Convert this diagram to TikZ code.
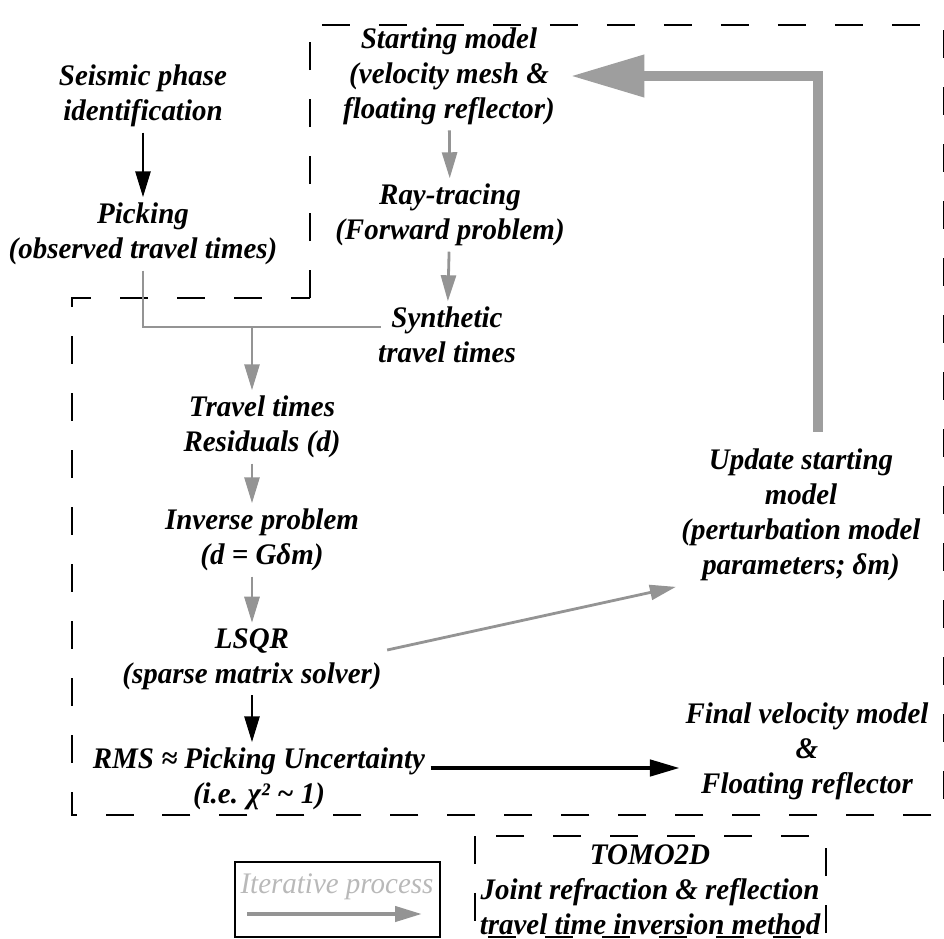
\documentclass[tikz,border=0pt]{standalone}
\usepackage{fontspec}
\setmainfont{Liberation Serif}[FakeStretch=0.97]
\usetikzlibrary{positioning,arrows.meta}
\definecolor{arrgray}{RGB}{148,148,148}
\definecolor{retgray}{RGB}{158,158,158}
\definecolor{legtext}{RGB}{185,185,185}

\begin{document}
\begin{tikzpicture}[x=0.02cm, y=-0.02cm,
    every node/.style={font=\bfseries\itshape\fontsize{17}{20}\selectfont, align=center, inner sep=3pt},
    garrow/.style={draw=arrgray, line width=1.6pt, -{Triangle[length=0.52cm,width=0.3cm]}},
    barrow/.style={draw=black, line width=1.6pt, -{Triangle[length=0.52cm,width=0.3cm]}},
    frame/.style={dash pattern=on 0.56cm off 0.58cm, line width=1.5pt}]
    \useasboundingbox (0,0) rectangle (944,939);
    % dashed outlines
    \draw[frame] (310,298) -- (310,25) -- (944,25) -- (944,815) -- (72,815) -- (72,298) -- cycle;
    \draw[frame] (475,836) rectangle (826,937);
    \draw[line width=1.2pt] (235,862) rectangle (440,937);

    \node (seis) at (143,96) {Seismic phase\\identification};
    \node (pick) at (143,234) {Picking\\(observed travel times)};
    \node (start) at (449,76) {Starting model\\(velocity mesh \&\\floating reflector)};
    \node (ray) at (450,215) {Ray-tracing\\(Forward problem)};
    \node (synth) at (447,335) {Synthetic\\travel times};
    \node (resid) at (262,427) {Travel times\\Residuals (d)};
    \node (inv) at (262,540) {Inverse problem\\(d = Gδm)};
    \node (lsqr) at (252,659) {LSQR\\(sparse matrix solver)};
    \node (rms) at (259,779) {RMS ≈ Picking Uncertainty\\(i.e. χ² \textasciitilde{} 1)};
    \node (final) at (807,751) {Final velocity model\\\&\\Floating reflector};
    \node (upd) at (801,515) {Update starting\\model\\(perturbation model\\parameters; δm)};

    \draw[barrow] (seis) -- (pick);
    \draw[garrow] (start) -- (ray);
    \draw[garrow] (ray) -- (synth);
    \coordinate (jn) at (252,327);
    \coordinate (synL) at (381,327);
    \draw[draw=arrgray, line width=1.6pt] (pick.south) |- (synL);
    \draw[garrow] (jn) -- (jn |- resid.north);
    \draw[garrow] (resid.south -| jn) -- (inv.north -| jn);
    \draw[garrow] (inv.south -| jn) -- (lsqr.north -| jn);
    \draw[barrow] (lsqr) -- (rms.north -| lsqr);
    \draw[garrow] ([yshift=0.18cm]lsqr.east) -- (upd.south west);
    \draw[draw=black, line width=2.6pt, -{Triangle[length=0.6cm,width=0.32cm]}] ([yshift=0.22cm]rms.east) -- ([yshift=0.22cm]rms.east -| final.west);

    % return to the starting model
    \coordinate (retA) at (818,432);
    \draw[draw=retgray, line width=6pt, -{Triangle[length=1.48cm,width=0.8cm]}, shorten >=0.2cm] (retA) |- (start.east);

    % legend
    \node[font=\itshape\fontsize{17}{20}\selectfont, text=legtext] (iter) at (337,887) {Iterative process};
    \coordinate (itA) at (247,914);
    \coordinate (itB) at (422,914);
    \draw[draw=arrgray, line width=2.4pt, -{Triangle[length=0.54cm,width=0.3cm]}] (itA) -- (itB);
    \node (tomo) at (650,890) {TOMO2D\\Joint refraction \& reflection\\travel time inversion method};
\end{tikzpicture}
\end{document}
